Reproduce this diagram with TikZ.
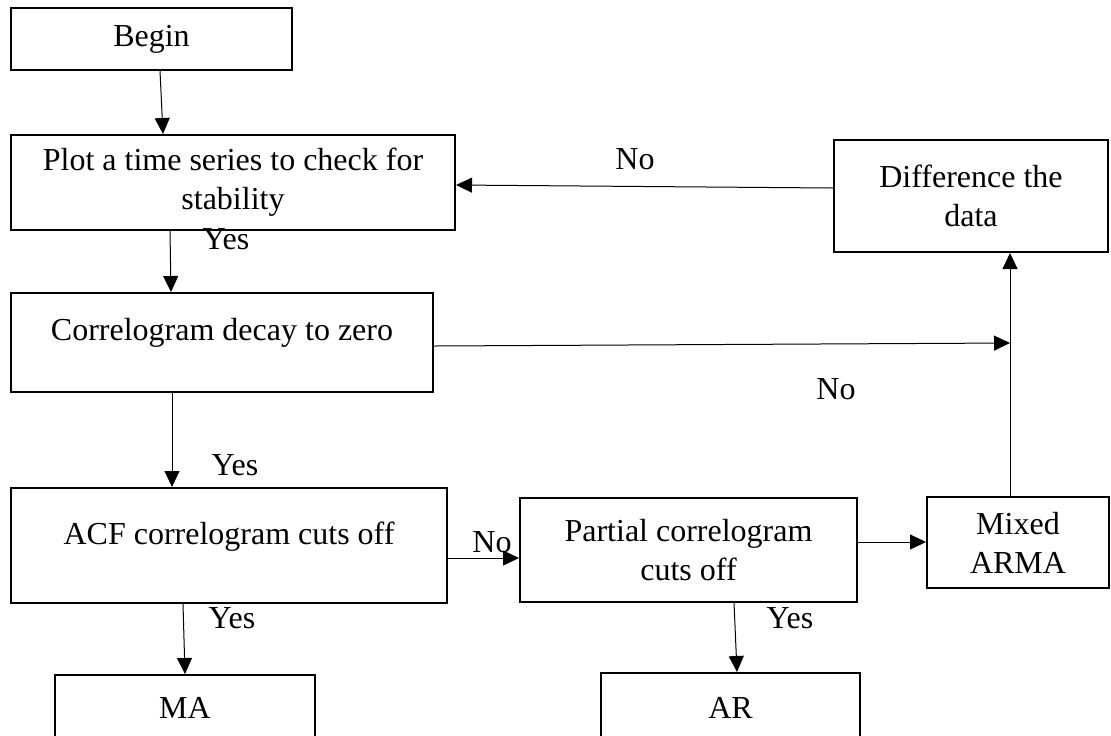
\documentclass[tikz,border=0pt]{standalone}
\usepackage{fontspec}
\setmainfont{Liberation Serif}
\usetikzlibrary{arrows.meta}

\begin{document}
\begin{tikzpicture}[x=0.5pt, y=-0.5pt,
  box/.style={draw, line width=1pt, align=center, inner sep=0pt,
    font=\fontsize{16}{19.5}\selectfont},
  arr/.style={-{Triangle[length=8pt, width=7.5pt]}, line width=0.5pt},
  lbl/.style={font=\fontsize{16}{19.5}\selectfont, inner sep=0pt}]
  % Page: 1111 x 735 px, 1 px = 0.5pt
  \useasboundingbox (0,0) rectangle (1111,735);
  \clip (0,0) rectangle (1111,735);

  % Boxes (centres in px)
  \node[box, minimum width=140.5pt, minimum height=31pt] (begin) at (151.5,39) {Begin};
  \node[box, minimum width=222pt, minimum height=47.5pt] (plot) at (233,182.5)
    {Plot a time series to check for\\stability};
  \node[box, minimum width=211pt, minimum height=49.5pt, text depth=13pt] (corr) at (222,342.5)
    {Correlogram decay to zero};
  \node[box, minimum width=137pt, minimum height=56pt] (diff) at (971,196)
    {Difference the\\data};
  \node[box, minimum width=218pt, minimum height=57.5pt, text depth=12pt] (acf) at (229,545.5)
    {ACF correlogram cuts off};
  \node[box, minimum width=168.5pt, minimum height=52pt] (part) at (688.5,550)
    {Partial correlogram\\cuts off};
  \node[box, minimum width=91pt, minimum height=45.5pt] (mixed) at (1018,542.5)
    {Mixed\\ARMA};
  \node[box, minimum width=130pt, minimum height=33pt] (ma) at (185,708) {MA};
  \node[box, minimum width=129.5pt, minimum height=35pt] (ar) at (730.5,708) {AR};

  % Junction on the way up to the difference box
  \coordinate (jn) at (1010,343);

  % Connectors
  \draw[arr] ([xshift=4.25pt]begin.south) -- ([xshift=-35pt]plot.north);
  \draw[arr] ([xshift=-31.5pt]plot.south) -- ([xshift=-25.5pt]corr.north);
  \draw[arr] ([yshift=-1.75pt]corr.east) -- (jn);
  \draw[arr] (mixed.north -| jn) -- (diff.south -| jn);
  \draw[arr] ([yshift=4pt]diff.west) -- ([yshift=-1.25pt]plot.east);
  \draw[arr] ([xshift=-25pt]corr.south) -- ([xshift=-28.5pt]acf.north);
  \draw[arr] ([xshift=-23pt]acf.south) -- (ma.north);
  \draw[arr] ([yshift=-6.25pt]acf.east) -- ([yshift=-6.25pt]acf.east -| part.west);
  \draw[arr] ([yshift=4pt]part.east) -- ([yshift=4pt]part.east -| mixed.west);
  \draw[arr] ([xshift=22.75pt]part.south) -- ([xshift=3.25pt]ar.north);

  % Yes / No labels
  \node[lbl] (yesplot) at (226,239) {Yes};
  \node[lbl] (noback) at (635,159) {No};
  \node[lbl] (nocorr) at (836,389) {No};
  \node[lbl] (yescorr) at (235,465) {Yes};
  \node[lbl] (yesacf) at (232,618) {Yes};
  \node[lbl] (noacf) at (492,542) {No};
  \node[lbl] (yespart) at (790,618) {Yes};
\end{tikzpicture}
\end{document}
